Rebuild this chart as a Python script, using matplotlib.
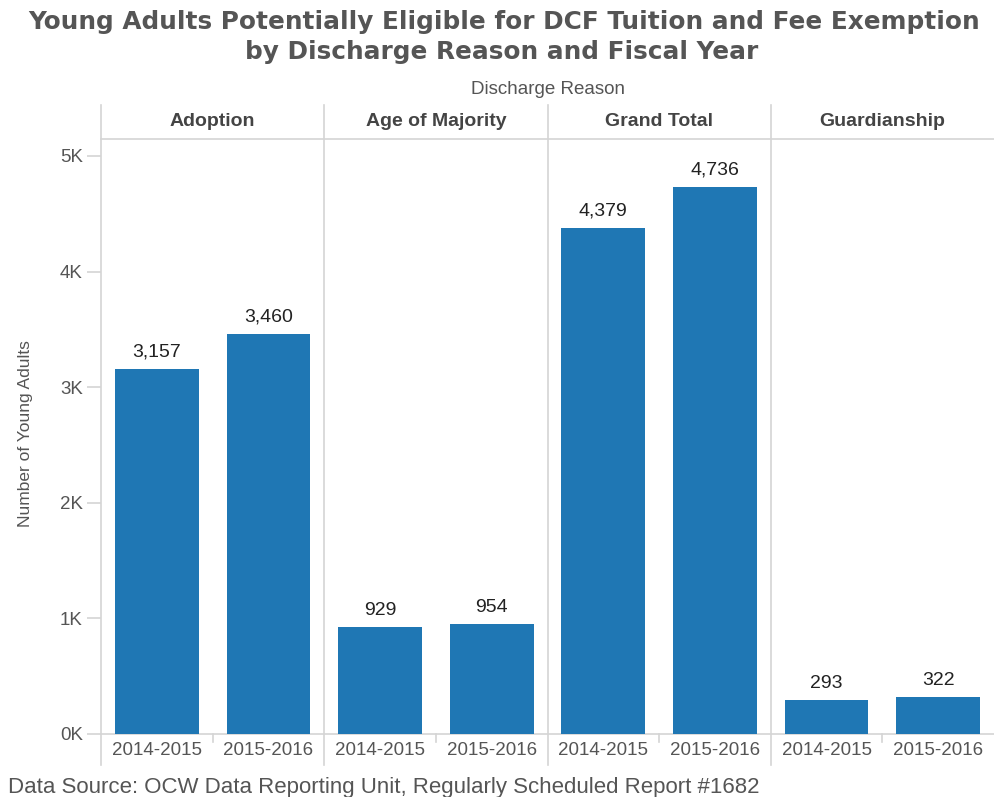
import numpy as np
import matplotlib.pyplot as plt

# Eligible young adults by discharge reason and fiscal year
reasons = ['Adoption', 'Age of Majority', 'Grand Total', 'Guardianship']
years = ['2014-2015', '2015-2016']
counts = [
    [3157, 3460],
    [929, 954],
    [4379, 4736],
    [293, 322],
]

BLUE = '#1f77b4'
GRID = '#d4d4d4'
TEXT = '#555555'
FONT = 'Liberation Sans'

fig = plt.figure(figsize=(9.94, 7.97), dpi=100)
ax = fig.add_axes([101 / 994, 1 - 734 / 797, 1 - 101 / 994, (734 - 139) / 797])

n_years = len(years)
x = np.arange(len(reasons) * n_years)
vals = np.array(counts).flatten()
ax.bar(x, vals, width=0.75, color=BLUE, zorder=3)

for xi, v in zip(x, vals):
    ax.text(xi, v + 70, f'{v:,}', ha='center', va='bottom',
            fontsize=14, family=FONT, color='#222222')

ax.set_xlim(-0.5, len(x) - 0.5)
ax.set_ylim(0, 5147)
ax.set_yticks(np.arange(0, 5001, 1000))
ax.set_yticklabels([f'{int(t / 1000)}K' for t in ax.get_yticks()],
                   family=FONT, fontsize=13.5, color=TEXT)
ax.set_xticks(x)
ax.set_xticklabels(years * len(reasons), family=FONT,
                   fontsize=13.5, color=TEXT)
ax.tick_params(axis='y', length=10, width=1.2, color=GRID, pad=3)
ax.tick_params(axis='x', length=0, pad=6)

for s in ['top', 'right', 'left']:
    ax.spines[s].set_visible(False)
ax.spines['bottom'].set_color(GRID)
ax.spines['bottom'].set_linewidth(1.2)

# panel dividers run from the header strip down past the year labels
lo, hi = -31 / 595, (734 - 105) / 595
for b in [-0.5, 1.5, 3.5, 5.5]:
    ax.axvline(b, ymin=lo, ymax=hi, color=GRID, lw=1.2, clip_on=False, zorder=1)
# short ticks between the two years in each panel
for b in [0.5, 2.5, 4.5, 6.5]:
    ax.axvline(b, ymin=-8 / 595, ymax=0, color=GRID, lw=1.2, clip_on=False)
# header underline
ax.axhline(5147, color=GRID, lw=1.2, clip_on=False)

for i, r in enumerate(reasons):
    ax.text(i * n_years + 0.5, 1 + 18 / 595, r, transform=ax.get_xaxis_transform(),
            ha='center', va='center', fontsize=14, fontweight='bold',
            family=FONT, color='#444444')

ax.set_ylabel('Number of Young Adults', family=FONT, fontsize=12.5, color=TEXT)
ax.yaxis.set_label_coords(-68 / 893, (734 - 434) / 595)

fig.text(548 / 994, 1 - 89 / 797, 'Discharge Reason', ha='center', va='center',
         family=FONT, fontsize=13.5, color=TEXT)

fig.text(504 / 994, 1 - 22 / 797, 'Young Adults Potentially Eligible for DCF Tuition and Fee Exemption',
         ha='center', va='center', fontsize=17.8, fontweight='bold',
         family='DejaVu Sans', color='#555555')
fig.text(502 / 994, 1 - 52 / 797, 'by Discharge Reason and Fiscal Year',
         ha='center', va='center', fontsize=17.8, fontweight='bold',
         family='DejaVu Sans', color='#555555')

fig.text(8 / 994, 1 - 787 / 797, 'Data Source: OCW Data Reporting Unit, Regularly Scheduled Report #1682',
         ha='left', va='center', fontsize=16, family=FONT, color=TEXT)

fig.savefig('out.png', dpi=100)
